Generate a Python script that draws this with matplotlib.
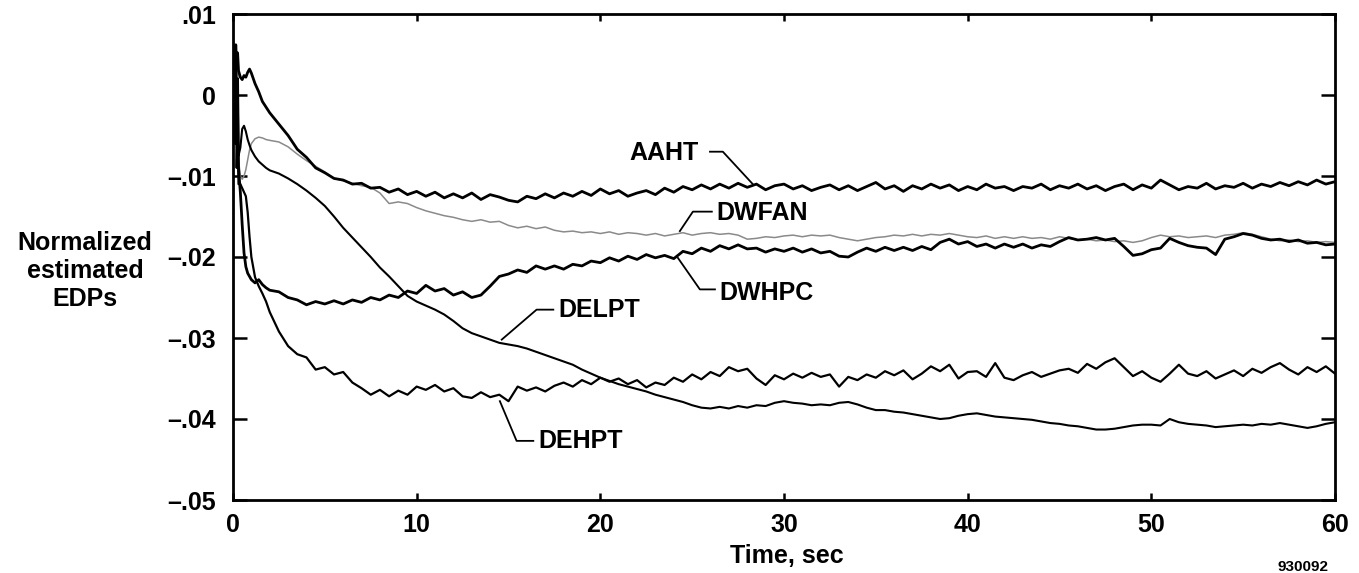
import numpy as np
import matplotlib
matplotlib.use("Agg")
import matplotlib.pyplot as plt

plt.rcParams["font.family"] = ["Liberation Sans", "DejaVu Sans"]
plt.rcParams["font.weight"] = "bold"

# time grid: fine start (transient), then every 0.5 s
time_early = [0, 0.05, 0.1, 0.15, 0.2, 0.25, 0.3, 0.4, 0.5, 0.6,
              0.7, 0.8, 0.9, 1.0, 1.2, 1.4, 1.6, 1.8, 2.0]
time_main = np.arange(2.5, 60.01, 0.5)

# AAHT
aaht_early = [0.0010, 0.0058, 0.0030, 0.0062, 0.0038, 0.0052, 0.0030, 0.0022, 0.0019, 0.0024,
              0.0022, 0.0028, 0.0032, 0.0027, 0.0014, 0.0004, -0.0008, -0.0015, -0.0022]
aaht_main = [
    -0.0036, -0.0050, -0.0067, -0.0077, -0.0090, -0.0096, -0.0103, -0.0105, -0.0110, -0.0109,
    -0.0115, -0.0114, -0.0120, -0.0116, -0.0123, -0.0119, -0.0125, -0.0120, -0.0127, -0.0122,
    -0.0127, -0.0121, -0.0129, -0.0123, -0.0126, -0.0130, -0.0132, -0.0125, -0.0128, -0.0122,
    -0.0127, -0.0121, -0.0125, -0.0119, -0.0124, -0.0116, -0.0122, -0.0118, -0.0125, -0.0121,
    -0.0118, -0.0123, -0.0115, -0.0120, -0.0113, -0.0117, -0.0111, -0.0116, -0.0110, -0.0115,
    -0.0109, -0.0114, -0.0110, -0.0117, -0.0112, -0.0110, -0.0116, -0.0112, -0.0118, -0.0114,
    -0.0111, -0.0117, -0.0112, -0.0118, -0.0113, -0.0108, -0.0116, -0.0112, -0.0119, -0.0112,
    -0.0116, -0.0110, -0.0115, -0.0111, -0.0118, -0.0113, -0.0117, -0.0110, -0.0115, -0.0113,
    -0.0118, -0.0113, -0.0115, -0.0110, -0.0117, -0.0112, -0.0115, -0.0110, -0.0116, -0.0112,
    -0.0118, -0.0113, -0.0110, -0.0117, -0.0111, -0.0115, -0.0105, -0.0111, -0.0117, -0.0113,
    -0.0115, -0.0109, -0.0116, -0.0112, -0.0114, -0.0109, -0.0115, -0.0110, -0.0113, -0.0108,
    -0.0112, -0.0107, -0.0111, -0.0105, -0.0110, -0.0107,
]

# DWFAN
dwfan_early = [0.0000, 0.0066, -0.0020, 0.0062, -0.0040, 0.0030, -0.0080, -0.0100, -0.0104, -0.0100,
               -0.0092, -0.0080, -0.0068, -0.0060, -0.0054, -0.0052, -0.0053, -0.0055, -0.0056]
dwfan_main = [
    -0.0058, -0.0064, -0.0073, -0.0081, -0.0088, -0.0095, -0.0103, -0.0106, -0.0109, -0.0112,
    -0.0114, -0.0121, -0.0134, -0.0132, -0.0134, -0.0139, -0.0143, -0.0146, -0.0149, -0.0151,
    -0.0154, -0.0156, -0.0154, -0.0157, -0.0156, -0.0161, -0.0164, -0.0162, -0.0165, -0.0163,
    -0.0167, -0.0169, -0.0168, -0.0170, -0.0169, -0.0171, -0.0169, -0.0172, -0.0170, -0.0171,
    -0.0173, -0.0171, -0.0174, -0.0172, -0.0170, -0.0173, -0.0171, -0.0170, -0.0172, -0.0171,
    -0.0173, -0.0178, -0.0177, -0.0175, -0.0176, -0.0174, -0.0173, -0.0175, -0.0173, -0.0174,
    -0.0173, -0.0176, -0.0178, -0.0180, -0.0178, -0.0176, -0.0175, -0.0173, -0.0174, -0.0172,
    -0.0174, -0.0172, -0.0173, -0.0171, -0.0173, -0.0175, -0.0176, -0.0174, -0.0177, -0.0175,
    -0.0177, -0.0175, -0.0177, -0.0176, -0.0178, -0.0175, -0.0177, -0.0179, -0.0178, -0.0180,
    -0.0179, -0.0181, -0.0180, -0.0182, -0.0180, -0.0176, -0.0173, -0.0175, -0.0174, -0.0176,
    -0.0175, -0.0174, -0.0176, -0.0173, -0.0172, -0.0170, -0.0172, -0.0175, -0.0178, -0.0180,
    -0.0179, -0.0181, -0.0180, -0.0182, -0.0181, -0.0182,
]

# DWHPC
dwhpc_early = [-0.0010, 0.0045, -0.0030, 0.0050, -0.0050, 0.0020, -0.0090, -0.0120, -0.0160, -0.0195,
               -0.0212, -0.0220, -0.0224, -0.0228, -0.0232, -0.0228, -0.0234, -0.0238, -0.0241]
dwhpc_main = [
    -0.0243, -0.0250, -0.0253, -0.0259, -0.0255, -0.0258, -0.0254, -0.0258, -0.0253, -0.0256,
    -0.0250, -0.0253, -0.0247, -0.0250, -0.0242, -0.0245, -0.0235, -0.0242, -0.0239, -0.0247,
    -0.0243, -0.0250, -0.0247, -0.0236, -0.0224, -0.0221, -0.0216, -0.0219, -0.0211, -0.0215,
    -0.0211, -0.0215, -0.0209, -0.0211, -0.0205, -0.0207, -0.0201, -0.0205, -0.0199, -0.0203,
    -0.0197, -0.0201, -0.0198, -0.0202, -0.0193, -0.0196, -0.0189, -0.0193, -0.0186, -0.0190,
    -0.0185, -0.0190, -0.0189, -0.0194, -0.0190, -0.0193, -0.0189, -0.0194, -0.0190, -0.0195,
    -0.0193, -0.0199, -0.0200, -0.0194, -0.0189, -0.0193, -0.0188, -0.0192, -0.0188, -0.0192,
    -0.0187, -0.0191, -0.0182, -0.0178, -0.0184, -0.0181, -0.0187, -0.0184, -0.0189, -0.0184,
    -0.0188, -0.0184, -0.0189, -0.0185, -0.0187, -0.0181, -0.0176, -0.0179, -0.0178, -0.0176,
    -0.0179, -0.0177, -0.0187, -0.0198, -0.0196, -0.0191, -0.0189, -0.0177, -0.0182, -0.0186,
    -0.0188, -0.0189, -0.0197, -0.0178, -0.0175, -0.0171, -0.0173, -0.0177, -0.0179, -0.0178,
    -0.0181, -0.0179, -0.0183, -0.0182, -0.0185, -0.0184,
]

# DELPT
delpt_early = [0.0000, 0.0050, -0.0020, 0.0040, -0.0060, 0.0010, -0.0075, -0.0065, -0.0042, -0.0038,
               -0.0045, -0.0055, -0.0062, -0.0068, -0.0076, -0.0082, -0.0086, -0.0090, -0.0093]
delpt_main = [
    -0.0097, -0.0103, -0.0110, -0.0118, -0.0127, -0.0137, -0.0150, -0.0164, -0.0176, -0.0188,
    -0.0200, -0.0213, -0.0224, -0.0236, -0.0248, -0.0255, -0.0260, -0.0265, -0.0271, -0.0279,
    -0.0288, -0.0294, -0.0298, -0.0302, -0.0306, -0.0308, -0.0310, -0.0313, -0.0317, -0.0321,
    -0.0325, -0.0329, -0.0333, -0.0339, -0.0344, -0.0349, -0.0353, -0.0357, -0.0360, -0.0363,
    -0.0366, -0.0370, -0.0373, -0.0376, -0.0379, -0.0383, -0.0386, -0.0387, -0.0385, -0.0387,
    -0.0384, -0.0386, -0.0383, -0.0384, -0.0380, -0.0378, -0.0380, -0.0381, -0.0383, -0.0382,
    -0.0383, -0.0380, -0.0379, -0.0382, -0.0386, -0.0389, -0.0389, -0.0391, -0.0392, -0.0394,
    -0.0396, -0.0398, -0.0400, -0.0399, -0.0396, -0.0394, -0.0393, -0.0395, -0.0397, -0.0398,
    -0.0399, -0.0400, -0.0401, -0.0403, -0.0405, -0.0406, -0.0408, -0.0409, -0.0411, -0.0413,
    -0.0413, -0.0412, -0.0410, -0.0408, -0.0407, -0.0407, -0.0408, -0.0400, -0.0404, -0.0406,
    -0.0407, -0.0408, -0.0410, -0.0409, -0.0408, -0.0407, -0.0408, -0.0406, -0.0407, -0.0405,
    -0.0407, -0.0409, -0.0411, -0.0409, -0.0406, -0.0404,
]

# DEHPT
dehpt_early = [-0.0020, 0.0030, -0.0060, 0.0020, -0.0090, -0.0040, -0.0110, -0.0110, -0.0115, -0.0120,
               -0.0125, -0.0145, -0.0175, -0.0200, -0.0225, -0.0236, -0.0245, -0.0255, -0.0268]
dehpt_main = [
    -0.0292, -0.0310, -0.0320, -0.0324, -0.0339, -0.0336, -0.0345, -0.0342, -0.0355, -0.0362,
    -0.0370, -0.0364, -0.0372, -0.0365, -0.0370, -0.0360, -0.0364, -0.0358, -0.0366, -0.0362,
    -0.0372, -0.0374, -0.0367, -0.0373, -0.0370, -0.0378, -0.0360, -0.0365, -0.0361, -0.0366,
    -0.0359, -0.0355, -0.0360, -0.0352, -0.0357, -0.0349, -0.0354, -0.0350, -0.0357, -0.0352,
    -0.0361, -0.0355, -0.0358, -0.0349, -0.0354, -0.0345, -0.0351, -0.0342, -0.0347, -0.0336,
    -0.0341, -0.0338, -0.0350, -0.0358, -0.0346, -0.0351, -0.0344, -0.0349, -0.0343, -0.0348,
    -0.0345, -0.0360, -0.0348, -0.0352, -0.0345, -0.0349, -0.0341, -0.0346, -0.0340, -0.0351,
    -0.0344, -0.0335, -0.0341, -0.0333, -0.0350, -0.0342, -0.0341, -0.0348, -0.0331, -0.0349,
    -0.0352, -0.0346, -0.0342, -0.0348, -0.0344, -0.0340, -0.0338, -0.0343, -0.0332, -0.0338,
    -0.0330, -0.0325, -0.0336, -0.0347, -0.0341, -0.0349, -0.0354, -0.0344, -0.0333, -0.0344,
    -0.0347, -0.0341, -0.0350, -0.0345, -0.0340, -0.0347, -0.0338, -0.0343, -0.0336, -0.0331,
    -0.0339, -0.0345, -0.0336, -0.0342, -0.0335, -0.0344,
]

time = np.concatenate([time_early, time_main])

fig = plt.figure(figsize=(13.59, 5.73), dpi=100)
ax = fig.add_axes([233 / 1359, 1 - 500 / 573, (1335 - 233) / 1359, (500 - 14) / 573])

ax.plot(time, dwfan_early + dwfan_main, color="#8a8a8a", lw=1.1)
ax.plot(time, delpt_early + delpt_main, color="black", lw=1.5)
ax.plot(time, dehpt_early + dehpt_main, color="black", lw=1.6)
ax.plot(time, dwhpc_early + dwhpc_main, color="black", lw=2.0)
ax.plot(time, aaht_early + aaht_main, color="black", lw=2.0)

# labels with leader lines
lab = dict(fontsize=18, fontweight="bold", va="center", ha="left")
ax.plot([28.3, 26.67, 25.97], [-0.0110, -0.0070, -0.0070], color="black", lw=1.3)
ax.text(21.6, -0.0072, "AAHT", **lab)
ax.plot([24.33, 25.04, 26.07], [-0.0168, -0.0144, -0.0144], color="black", lw=1.3)
ax.text(26.3, -0.0146, "DWFAN", **lab)
ax.plot([24.22, 25.42, 26.24], [-0.0201, -0.0240, -0.0240], color="black", lw=1.3)
ax.text(26.5, -0.0244, "DWHPC", **lab)
ax.plot([14.63, 16.53, 17.44], [-0.0302, -0.0265, -0.0265], color="black", lw=1.3)
ax.text(17.7, -0.0265, "DELPT", **lab)
ax.plot([14.53, 15.44, 16.35], [-0.0378, -0.0427, -0.0427], color="black", lw=1.3)
ax.text(16.62, -0.0427, "DEHPT", **lab)

ax.set_xlim(0, 60)
ax.set_ylim(-0.05, 0.01)
ax.set_xticks([0, 10, 20, 30, 40, 50, 60])
ax.set_yticks([0.01, 0, -0.01, -0.02, -0.03, -0.04, -0.05])
ax.set_yticklabels([".01", "0", "\u2013.01", "\u2013.02", "\u2013.03", "\u2013.04", "\u2013.05"])
ax.tick_params(axis="both", direction="in", labelsize=18, width=1.8)
ax.tick_params(axis="x", top=True, length=5, pad=9)
ax.tick_params(axis="y", right=True, length=10, pad=12)
for s in ax.spines.values():
    s.set_linewidth(2.0)

fig.text(787 / 1359, 1 - 556 / 573, "Time, sec", fontsize=18, fontweight="bold",
         ha="center", va="center")
fig.text(85 / 1359, 1 - 271 / 573, "Normalized\nestimated\nEDPs", fontsize=18,
         fontweight="bold", ha="center", va="center", multialignment="center",
         linespacing=1.22)
fig.text(1303 / 1359, 1 - 567 / 573, "930092", fontsize=11, fontweight="bold",
         ha="center", va="center")

fig.savefig("out.png", dpi=100)
